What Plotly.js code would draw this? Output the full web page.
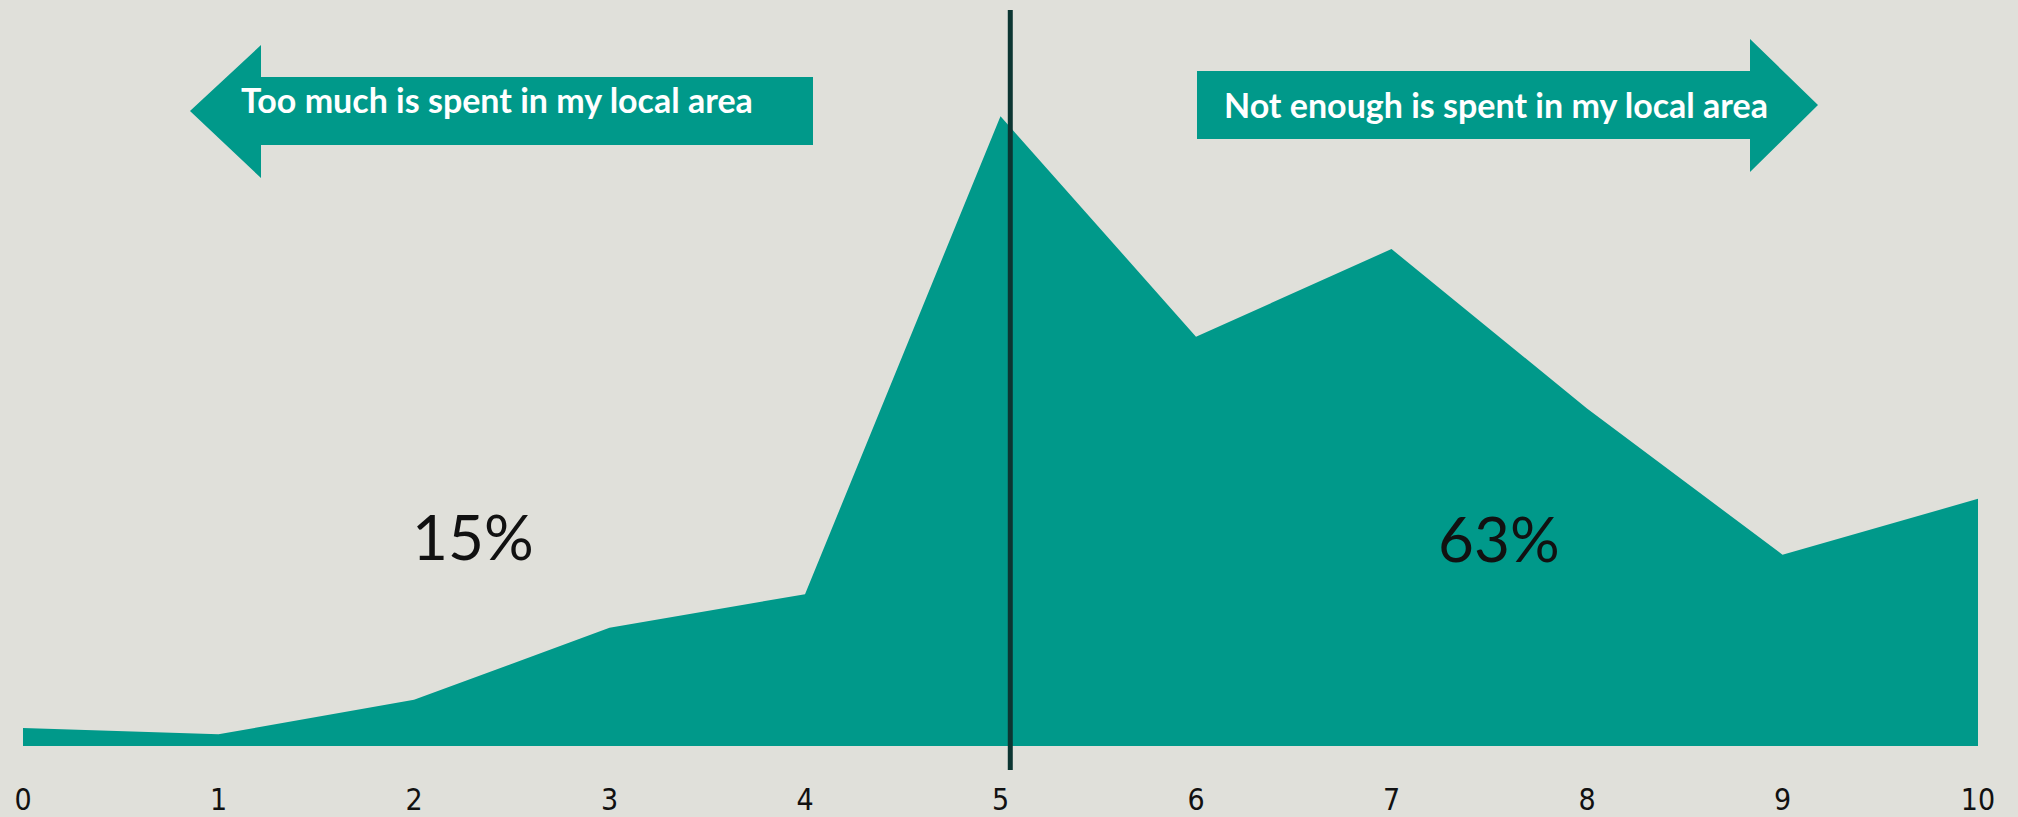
<!DOCTYPE html>
<html>
<head>
<meta charset="utf-8">
<script src="https://cdn.plot.ly/plotly-3.0.1.min.js"></script>
<style>
  html, body { margin: 0; padding: 0; background: #e0e0da; }
  #chart { width: 2018px; height: 817px; }
</style>
</head>
<body>
<div id="chart"></div>
<script>
// Scale 0 (too much spent) ... 10 (not enough spent)
const scores = [0, 1, 2, 3, 4, 5, 6, 7, 8, 9, 10];
const tickLabels = ["0", "1", "2", "3", "4", "5", "6", "7", "8", "9", "10"];
// share of respondents (%)
const shares = [0.68, 0.44, 1.74, 4.45, 5.71, 23.7, 15.4, 18.7, 12.7, 7.2, 9.3];
const leftLabel = "15%";
const rightLabel = "63%";
const leftArrowText = "Too much is spent in my local area";
const rightArrowText = "Not enough is spent in my local area";
const midpoint = 5.05;

const W = 2018, H = 817;
const M = { l: 23, r: 40, t: 0, b: 71 };
const pw = W - M.l - M.r, ph = H - M.t - M.b;
// pixel -> paper helpers for decorative shapes
const px = x => (x - M.l) / pw;
const py = y => (H - M.b - y) / ph;

function pathFrom(points) {
  return "M " + points.map(p => px(p[0]).toFixed(5) + "," + py(p[1]).toFixed(5)).join(" L ") + " Z";
}

const teal = "#00998a";

// Arrow outlines (pixel geometry)
const leftArrow = pathFrom([
  [190, 111], [261, 45], [261, 77], [813, 77], [813, 145], [261, 145], [261, 178]
]);
const rightArrow = pathFrom([
  [1197, 71], [1750, 71], [1750, 39], [1818, 105], [1750, 172], [1750, 139], [1197, 139]
]);

const trace = {
  x: scores,
  y: shares,
  type: "scatter",
  mode: "lines",
  fill: "tozeroy",
  fillcolor: teal,
  line: { width: 0, color: teal },
  hoverinfo: "x+y"
};

const layout = {
  width: W, height: H,
  margin: M,
  paper_bgcolor: "#e0e0da",
  plot_bgcolor: "#e0e0da",
  showlegend: false,
  xaxis: {
    range: [0, 10],
    tickvals: scores,
    ticktext: tickLabels,
    showgrid: false, zeroline: false, showline: false,
    ticks: "",
    ticklabelstandoff: 33,
    tickfont: { family: "Liberation Sans Narrow, DejaVu Sans Condensed, DejaVu Sans Mono", size: 30, color: "#111" }
  },
  yaxis: {
    range: [0, 28.07],
    showgrid: false, zeroline: false, showline: false,
    showticklabels: false, ticks: ""
  },
  shapes: [
    { type: "path", xref: "paper", yref: "paper", path: leftArrow, fillcolor: teal, line: { width: 0 }, layer: "above" },
    { type: "path", xref: "paper", yref: "paper", path: rightArrow, fillcolor: teal, line: { width: 0 }, layer: "above" },
    { type: "line", xref: "x", yref: "paper", x0: midpoint, x1: midpoint, y0: py(770), y1: py(10),
      line: { color: "#0c3632", width: 5 }, layer: "above" }
  ],
  annotations: [
    { xref: "paper", yref: "paper", x: px(497), y: py(100), xanchor: "center", yanchor: "middle",
      text: "<b>" + leftArrowText + "</b>",
      showarrow: false, font: { family: "Lato", size: 34, color: "#ffffff" } },
    { xref: "paper", yref: "paper", x: px(1496), y: py(105), xanchor: "center", yanchor: "middle",
      text: "<b>" + rightArrowText + "</b>",
      showarrow: false, font: { family: "Lato", size: 34, color: "#ffffff" } },
    { xref: "x", yref: "paper", x: 2.3, y: py(536), xanchor: "center", yanchor: "middle", text: leftLabel,
      showarrow: false, font: { family: "Lato", size: 62, color: "#111111" } },
    { xref: "x", yref: "paper", x: 7.55, y: py(538), xanchor: "center", yanchor: "middle", text: rightLabel,
      showarrow: false, font: { family: "Lato", size: 62, color: "#111111" } }
  ]
};

Plotly.newPlot("chart", [trace], layout, { displayModeBar: false, staticPlot: true });
</script>
</body>
</html>
